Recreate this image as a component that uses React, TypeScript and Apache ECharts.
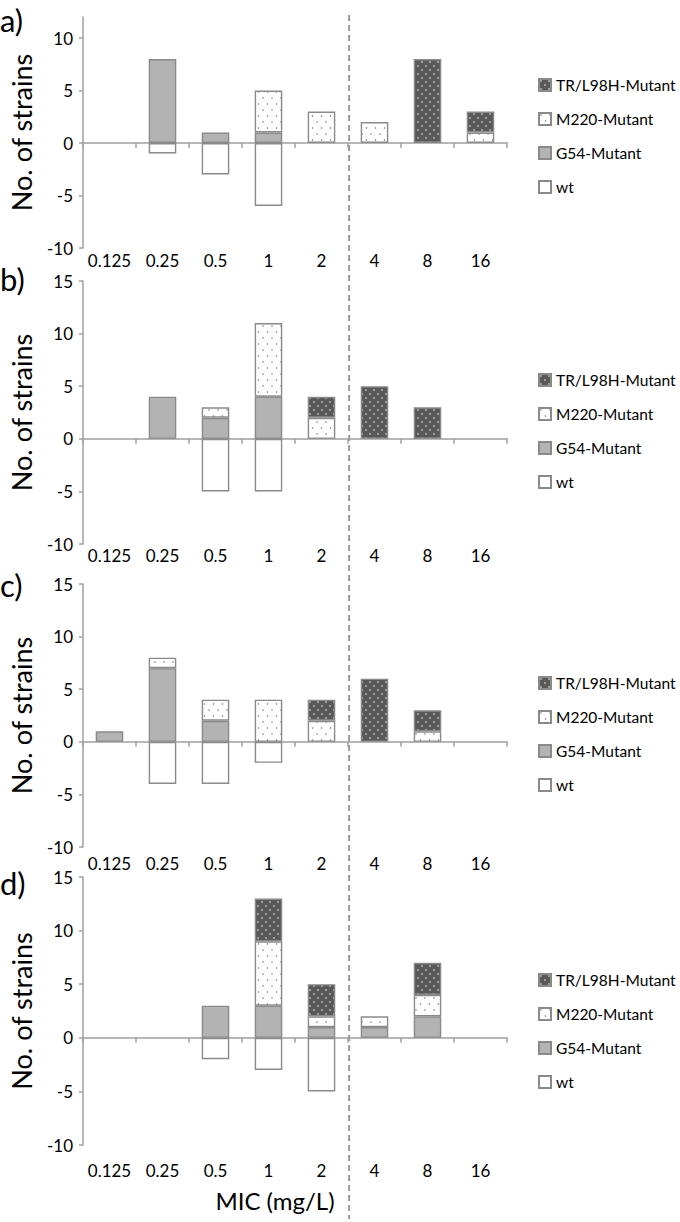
import React, { useEffect, useRef } from "react";
import * as echarts from "echarts";

// ---------- data ----------
const categories = ["0.125", "0.25", "0.5", "1", "2", "4", "8", "16"];
const seriesNames = ["G54-Mutant", "M220-Mutant", "TR/L98H-Mutant", "wt"];
const legendOrder = ["TR/L98H-Mutant", "M220-Mutant", "G54-Mutant", "wt"];
const panelLabels = ["a)", "b)", "c)", "d)"];
const panelYMax = [12, 15, 15, 15];
const yMin = -10;
const yInterval = 5;
const yTicksA = [-10, -5, 0, 5, 10];
const yTicksBCD = [-10, -5, 0, 5, 10, 15];

// panel a
const aG54 = [0, 8, 1, 1, 0, 0, 0, 0];
const aM220 = [0, 0, 0, 4, 3, 2, 0, 1];
const aTR = [0, 0, 0, 0, 0, 0, 8, 2];
const aWt = [0, -1, -3, -6, 0, 0, 0, 0];
// panel b
const bG54 = [0, 4, 2, 4, 0, 0, 0, 0];
const bM220 = [0, 0, 1, 7, 2, 0, 0, 0];
const bTR = [0, 0, 0, 0, 2, 5, 3, 0];
const bWt = [0, 0, -5, -5, 0, 0, 0, 0];
// panel c
const cG54 = [1, 7, 2, 0, 0, 0, 0, 0];
const cM220 = [0, 1, 2, 4, 2, 0, 1, 0];
const cTR = [0, 0, 0, 0, 2, 6, 2, 0];
const cWt = [0, -4, -4, -2, 0, 0, 0, 0];
// panel d
const dG54 = [0, 0, 3, 3, 1, 1, 2, 0];
const dM220 = [0, 0, 0, 6, 1, 1, 2, 0];
const dTR = [0, 0, 0, 4, 3, 0, 3, 0];
const dWt = [0, 0, -2, -3, -5, 0, 0, 0];

const panels = [
  [aG54, aM220, aTR, aWt],
  [bG54, bM220, bTR, bWt],
  [cG54, cM220, cTR, cWt],
  [dG54, dM220, dTR, dWt],
];

// ---------- layout ----------
const plotLeft = 78;
const plotWidth = 429;
const gridTops = [17, 281, 584, 877];
const gridBottoms = [248, 544, 847, 1145];
const legendTops = [72, 367, 670, 967];
const labelMargins = [4, 3, 8, 17];
const panelLabelY = [21, 280, 586, 884];

const FONT = "Lato";
const AXIS_GREY = "#a0a0a0";
const BORDER_GREY = "#8a8a8a";

function makeDots(w: number, h: number, bg: string, dot: string, pts: number[][], r: number) {
  const c = document.createElement("canvas");
  c.width = w;
  c.height = h;
  const ctx = c.getContext("2d")!;
  ctx.fillStyle = bg;
  ctx.fillRect(0, 0, w, h);
  ctx.fillStyle = dot;
  pts.forEach(([x, y]) => {
    ctx.beginPath();
    ctx.arc(x, y, r, 0, Math.PI * 2);
    ctx.fill();
  });
  return { image: c.toDataURL(), repeat: "repeat", imageWidth: w, imageHeight: h };
}

export default function App() {
  const ref = useRef<HTMLDivElement>(null);

  useEffect(() => {
    document.body.style.margin = "0";
    if (!ref.current) return;
    const chart = echarts.init(ref.current, null, { renderer: "svg" });

    const trPattern = makeDots(8, 8, "#595959", "#ffffff", [[2, 2], [6, 6]], 0.75);
    const m220Pattern = makeDots(9, 12, "#ffffff", "#6a6a6a", [[2, 2], [6.5, 8]], 0.75);
    const fills: any[] = ["#b3b3b3", m220Pattern, trPattern, "#ffffff"];

    const grids: any[] = [];
    const xAxes: any[] = [];
    const yAxes: any[] = [];
    const series: any[] = [];
    const legends: any[] = [];
    const graphics: any[] = [];

    panels.forEach((data, p) => {
      grids.push({
        left: plotLeft,
        width: plotWidth,
        top: gridTops[p],
        height: gridBottoms[p] - gridTops[p],
      });
      // axis at zero with boundary ticks
      xAxes.push({
        type: "category",
        gridIndex: p,
        data: categories,
        position: "bottom",
        axisLine: { show: true, onZero: true, lineStyle: { color: AXIS_GREY, width: 1.5 } },
        axisTick: { show: true, length: 5, lineStyle: { color: AXIS_GREY, width: 1.5 } },
        axisLabel: { show: false },
        splitLine: { show: false },
      });
      // label axis at the bottom
      xAxes.push({
        type: "category",
        gridIndex: p,
        data: categories,
        position: "bottom",
        axisLine: { show: false, onZero: false },
        axisTick: { show: false },
        axisLabel: {
          show: true,
          interval: 0,
          margin: labelMargins[p],
          color: "#000",
          fontSize: 17,
          fontFamily: FONT,
        },
        splitLine: { show: false },
      });
      const ticks = p === 0 ? yTicksA : yTicksBCD;
      yAxes.push({
        type: "value",
        gridIndex: p,
        min: yMin,
        max: panelYMax[p],
        interval: yInterval,
        axisLine: { show: true, lineStyle: { color: AXIS_GREY, width: 1.5 } },
        axisTick: { show: true, length: 4, customValues: ticks, lineStyle: { color: AXIS_GREY, width: 1.5 } },
        axisLabel: { customValues: ticks, color: "#000", fontSize: 17, fontFamily: FONT, margin: 10 },
        splitLine: { show: false },
        name: "No. of strains",
        nameLocation: "middle",
        nameGap: 48,
        nameTextStyle: { color: "#000", fontSize: 27, fontFamily: FONT },
      });
      data.forEach((vals, s) => {
        series.push({
          type: "bar",
          name: seriesNames[s],
          xAxisIndex: p * 2,
          yAxisIndex: p,
          stack: "panel" + p,
          barWidth: "52%",
          data: vals.map((v) => (v === 0 ? null : v)),
          itemStyle: { color: fills[s], borderColor: BORDER_GREY, borderWidth: 1.4 },
          emphasis: { disabled: true },
        });
      });
      legends.push({
        orient: "vertical",
        left: 533,
        top: legendTops[p],
        data: legendOrder,
        icon: "rect",
        itemWidth: 12,
        itemHeight: 12,
        itemGap: 18,
        selectedMode: false,
        textStyle: { color: "#000", fontSize: 15.5, lineHeight: 16, fontFamily: FONT },
      });
      graphics.push({
        type: "text",
        left: 0,
        top: panelLabelY[p] - 17,
        style: { text: panelLabels[p], fontSize: 31, fontFamily: FONT, fill: "#000" },
      });
    });

    const dashX = plotLeft + (plotWidth * 5) / categories.length + 3;
    graphics.push({
      type: "line",
      shape: { x1: dashX, y1: 15, x2: dashX, y2: 1219 },
      style: { stroke: "#9a9a9a", lineWidth: 2, lineDash: [6, 4] },
      z: 10,
    });
    graphics.push({
      type: "text",
      x: 275,
      y: 1200,
      style: {
        text: "MIC (mg/L)",
        fontSize: 24,
        fontFamily: FONT,
        fill: "#000",
        align: "center",
        verticalAlign: "middle",
      },
    });

    chart.setOption({
      animation: false,
      backgroundColor: "#ffffff",
      grid: grids,
      xAxis: xAxes,
      yAxis: yAxes,
      series,
      legend: legends,
      graphic: graphics,
    });

    return () => chart.dispose();
  }, []);

  return <div ref={ref} style={{ width: 680, height: 1222 }} />;
}
